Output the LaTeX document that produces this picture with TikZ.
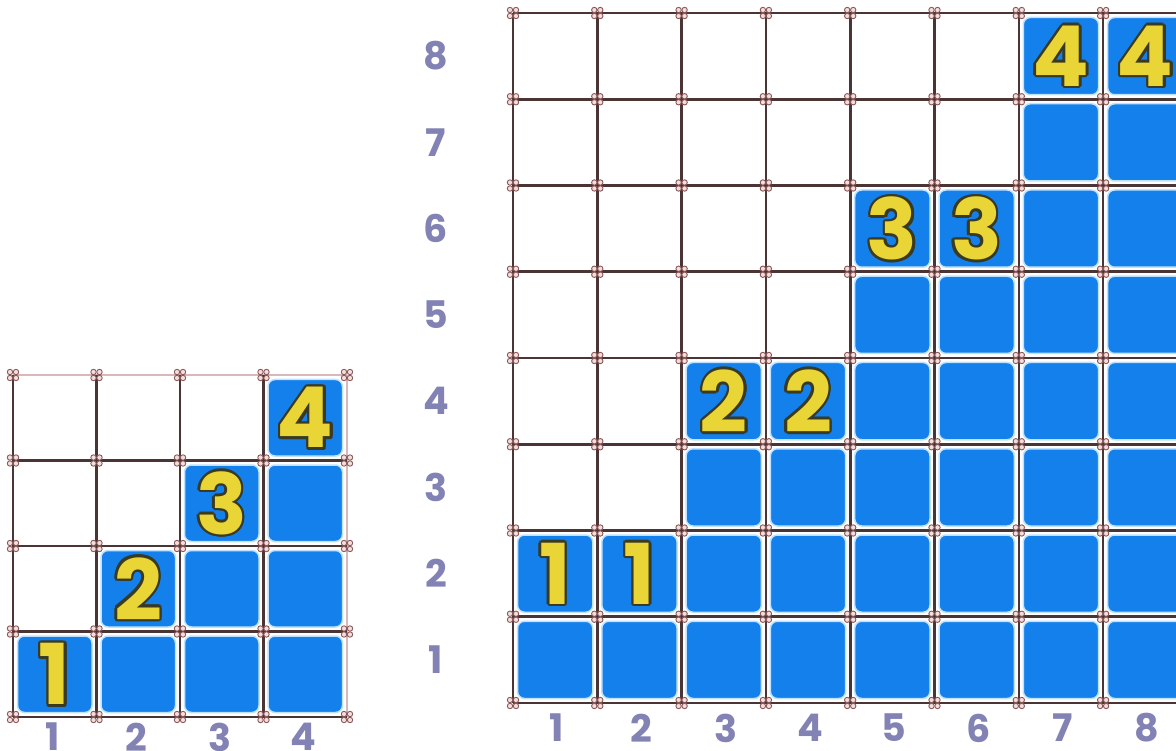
\documentclass[tikz,border=0pt]{standalone}
\usepackage{fontspec}
\usetikzlibrary{calc}
\newfontfamily\digfont{Poppins}
\definecolor{cellblue}{HTML}{1480EC}
\definecolor{edgeblue}{HTML}{BFE3FF}
\definecolor{gridbrown}{HTML}{4B3434}
\definecolor{gridlight}{HTML}{D8B8B8}
\definecolor{ornbrown}{HTML}{8A5858}
\definecolor{ornpink}{HTML}{F3DDDD}
\definecolor{digyellow}{HTML}{E9D636}
\definecolor{digdark}{HTML}{3A3A22}
\definecolor{labpurple}{HTML}{8282B4}
\tikzset{
  gridline/.style={draw=gridbrown, line width=2.6pt},
  gridfaint/.style={draw=gridlight, line width=1.5pt},
  bluecell/.style={fill=cellblue, draw=edgeblue, line width=1.5pt, rounded corners=7pt},
  orn/.style={draw=ornbrown, fill=ornpink, line width=0.9pt},
  dig/.style={text=digyellow, font=\digfont\bfseries\fontsize{84}{84}\selectfont, inner sep=0pt},
  digsh/.style={text=digdark, font=\digfont\bfseries\fontsize{84}{84}\selectfont, inner sep=0pt},
  lab/.style={text=labpurple, font=\digfont\bfseries\fontsize{38}{38}\selectfont, inner sep=0pt},
}
\newcommand\putdig[3]{%
  \foreach \a in {0,30,...,330} {\node[digsh] at ($(#1,#2)+(\a:2.6pt)$) {#3};}
  \node[dig] at (#1,#2) {#3};}
\newcommand\ornat[2]{%
  \foreach \ox/\oy in {-3/-3,3/-3,-3/3,3/3} {\path[orn] ($(#1,#2)+(\ox,\oy)$) circle[radius=2.7pt];}}
\begin{document}
\begin{tikzpicture}[x=1pt,y=-1pt]
\useasboundingbox (0,0) rectangle (1176,751);
\clip (0,0) rectangle (1176,751);
\fill[white] (0,0) rectangle (1176,751);
% ---------- large grid ----------
\foreach \r in {1,...,8}{
  \foreach \c in {1,...,8}{
    \pgfmathtruncatemacro\m{2*int((\r+1)/2)-1}
    \ifnum\c<\m\relax\else
      \pgfmathsetmacro\xa{513+(\c-1)*84.3+4.5}
      \pgfmathsetmacro\ya{13+(8-\r)*86.25+4.5}
      \path[bluecell] (\xa,\ya) rectangle ++(75.3,77.25);
    \fi
  }}
\foreach \i in {0,...,8}{
  \pgfmathsetmacro\xx{513+\i*84.3}
  \draw[gridline] (\xx,13) -- (\xx,703);
  \pgfmathsetmacro\yy{13+\i*86.25}
  \draw[gridline] (513,\yy) -- (1190,\yy);
}
\foreach \i in {0,...,8}{
  \foreach \j in {0,...,8}{
    \pgfmathsetmacro\xx{513+\i*84.3}
    \pgfmathsetmacro\yy{13+\j*86.25}
    \ornat{\xx}{\yy}
  }}
\foreach \d in {1,...,4}{
  \foreach \k in {0,1}{
    \pgfmathsetmacro\cx{513+(2*\d-2+\k)*84.3+42.15}
    \pgfmathsetmacro\cy{13+(8-2*\d)*86.25+43.1}
    \putdig{\cx}{\cy}{\d}
  }}
\foreach \r in {1,...,8}{
  \pgfmathsetmacro\cy{13+(8-\r)*86.25+43.1}
  \node[lab] (rl\r) at (436,\cy) {\r};
}
\foreach \c in {1,...,8}{
  \pgfmathsetmacro\cx{513+(\c-1)*84.3+44}
  \node[lab] (cl\c) at (\cx,728) {\c};
}
% ---------- small grid ----------
\foreach \r in {1,...,4}{
  \foreach \c in {1,...,4}{
    \ifnum\c<\r\relax\else
      \pgfmathsetmacro\xa{13+(\c-1)*83.5+4.5}
      \pgfmathsetmacro\ya{375+(4-\r)*85.5+4.5}
      \path[bluecell] (\xa,\ya) rectangle ++(74.5,76.5);
    \fi
  }}
\draw[gridfaint] (13,375) -- (347,375);
\draw[gridfaint] (347,375) -- (347,717);
\foreach \i in {0,...,3}{
  \pgfmathsetmacro\xx{13+\i*83.5}
  \draw[gridline] (\xx,375) -- (\xx,717);
}
\foreach \i in {1,...,4}{
  \pgfmathsetmacro\yy{375+\i*85.5}
  \draw[gridline] (13,\yy) -- (347,\yy);
}
\foreach \i in {0,...,4}{
  \foreach \j in {0,...,4}{
    \pgfmathsetmacro\xx{13+\i*83.5}
    \pgfmathsetmacro\yy{375+\j*85.5}
    \ornat{\xx}{\yy}
  }}
\foreach \r in {1,...,4}{
  \pgfmathsetmacro\cx{13+(\r-1)*83.5+41.75}
  \pgfmathsetmacro\cy{375+(4-\r)*85.5+42.75}
  \putdig{\cx}{\cy}{\r}
}
\foreach \c in {1,...,4}{
  \pgfmathsetmacro\cx{13+(\c-1)*83.5+40}
  \node[lab] (sl\c) at (\cx,737) {\c};
}
\end{tikzpicture}
\end{document}
